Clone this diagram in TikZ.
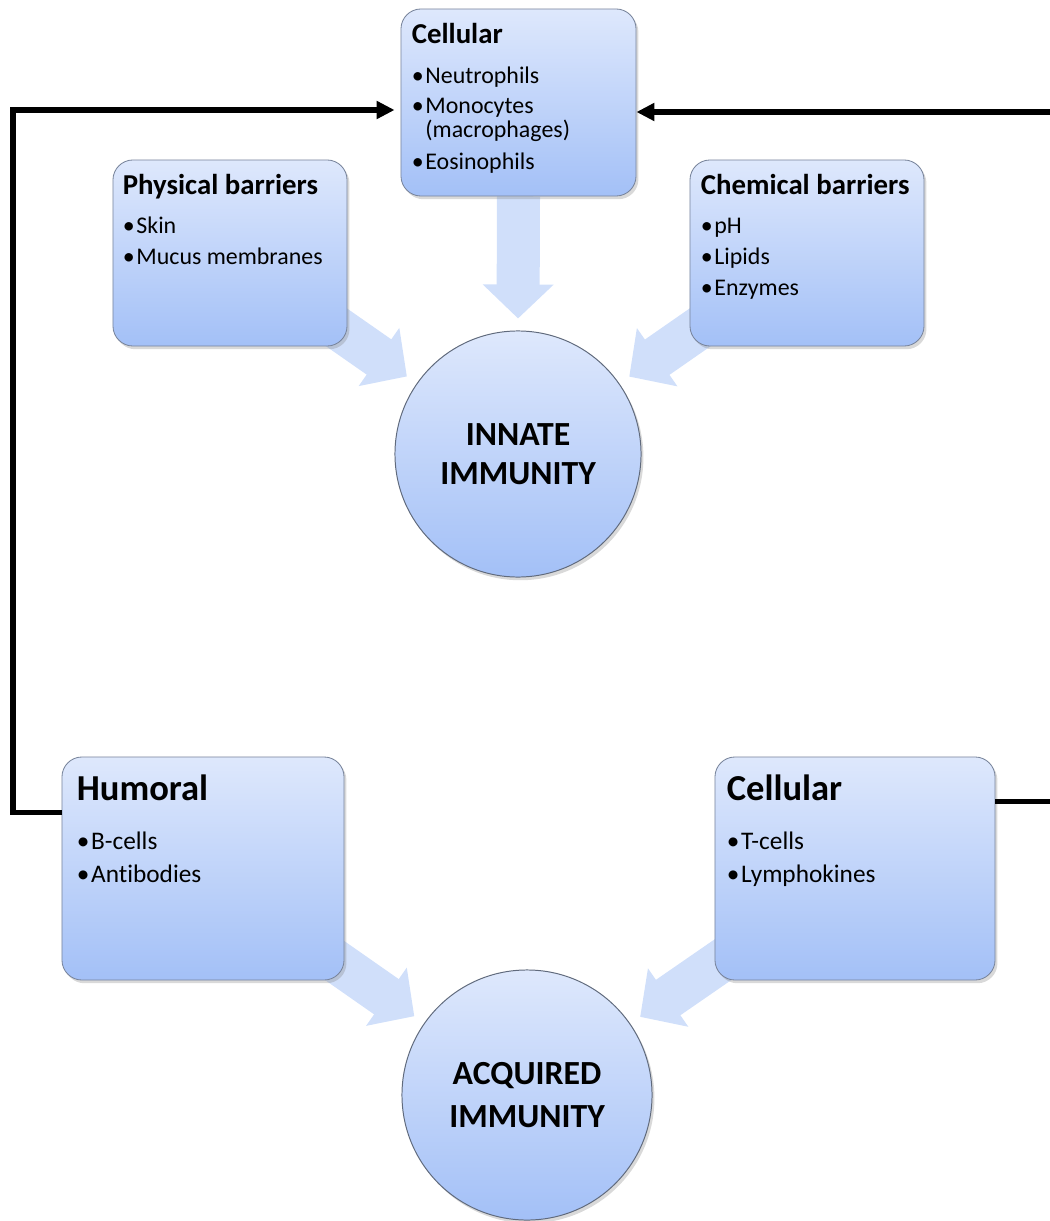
\documentclass[tikz,border=0pt]{standalone}
\usepackage{fontspec}
\setmainfont{Carlito}[Ligatures=CommonOff]
\usetikzlibrary{arrows.meta,calc,backgrounds,shadows}
\definecolor{boxtop}{RGB}{222,232,252}
\definecolor{boxbot}{RGB}{163,192,247}
\definecolor{boxline}{RGB}{120,132,155}
\definecolor{fatblue}{RGB}{208,223,250}
\newcommand{\hsmall}{\fontsize{20.5}{24}\selectfont\bfseries}
\newcommand{\hbig}{\fontsize{26}{30}\selectfont\bfseries}
\newcommand{\bul}{•\kern1.2pt}
\begin{document}
\begin{tikzpicture}[x=0.025cm,y=-0.025cm,
  box/.style={draw=boxline, line width=0.6pt, rounded corners=0.5cm,
    top color=boxtop, bottom color=boxbot,
    drop shadow={shadow xshift=0.6mm,shadow yshift=-0.8mm,opacity=0.3}},
  ball/.style={circle, draw=boxline!80!black, line width=0.7pt,
    top color=boxtop, bottom color=boxbot, align=center, inner sep=0pt,
    font=\fontsize{24}{28}\selectfont\bfseries,
    drop shadow={shadow xshift=0.6mm,shadow yshift=-0.8mm,opacity=0.3}},
  list/.style={anchor=north west, align=left, inner sep=0pt,
    font=\fontsize{17}{22}\selectfont},
  biglist/.style={list, font=\fontsize{18}{23.5}\selectfont},
  fatarrow/.style={draw=fatblue, line width=1.075cm,
    -{Triangle[length=0.85cm,width=1.725cm]}, shorten >=0.3cm},
  feedback/.style={draw=black, line width=3.6pt,
    -{Triangle[length=0.45cm,width=0.43cm]}}]
\path[use as bounding box, clip] (0,0) rectangle (1050,1221);
\node[box, minimum width=5.875cm, minimum height=4.675cm] (cellT) at (518.5,102.5) {};
\node[box, minimum width=5.85cm, minimum height=4.65cm] (phys) at (230,253) {};
\node[box, minimum width=5.85cm, minimum height=4.65cm] (chem) at (807,253) {};
\node[ball, minimum size=6.15cm] (innate) at (518,454) {INNATE\\IMMUNITY};
\node[box, minimum width=7.05cm, minimum height=5.575cm] (humo) at (203,868.5) {};
\node[box, minimum width=7cm, minimum height=5.575cm] (cellB) at (855,868.5) {};
\node[ball, minimum size=6.25cm] (acq) at (527,1095) {ACQUIRED\\[3pt]IMMUNITY};
\node[list] (cellTtext) at ($(cellT.north west)+(11,14)$)
  {{\hsmall Cellular}\\[7pt] \bul Neutrophils\\[-1pt] \bul Monocytes\\[-5pt]
   \phantom{\bul}(macrophages)\\[1pt] \bul Eosinophils};
\node[list] (phystext) at ($(phys.north west)+(10,14)$)
  {{\hsmall Physical barriers}\\[6pt] \bul Skin\\ \bul Mucus membranes};
\node[list] (chemtext) at ($(chem.north west)+(11,14)$)
  {{\hsmall Chemical barriers}\\[6pt] \bul pH\\ \bul Lipids\\ \bul Enzymes};
\node[biglist] (humotext) at ($(humo.north west)+(15,18)$)
  {{\hbig Humoral}\\[11pt] \bul B-cells\\ \bul Antibodies};
\node[biglist] (cellBtext) at ($(cellB.north west)+(12,18)$)
  {{\hbig Cellular}\\[11pt] \bul T-cells\\ \bul Lymphokines};
\begin{scope}[on background layer]
\draw[fatarrow] (cellT.south) -- (innate.north);
\draw[fatarrow] (phys.center) -- (innate);
\draw[fatarrow] (chem.center) -- (innate);
\draw[fatarrow] (humo.center) -- (acq);
\draw[fatarrow] (cellB.center) -- (acq);
\end{scope}
\coordinate (lturn) at (13,110);
\coordinate (rturn) at (1065,112);
\draw[feedback] ($(humo.north west)!0.25!(humo.south west)$) -| (lturn)
  -- ([xshift=-0.15cm]lturn -| cellT.west);
\draw[feedback] ($(cellB.north east)!0.2!(cellB.south east)$) -| (rturn)
  -- (rturn -| cellT.east);
\end{tikzpicture}
\end{document}
